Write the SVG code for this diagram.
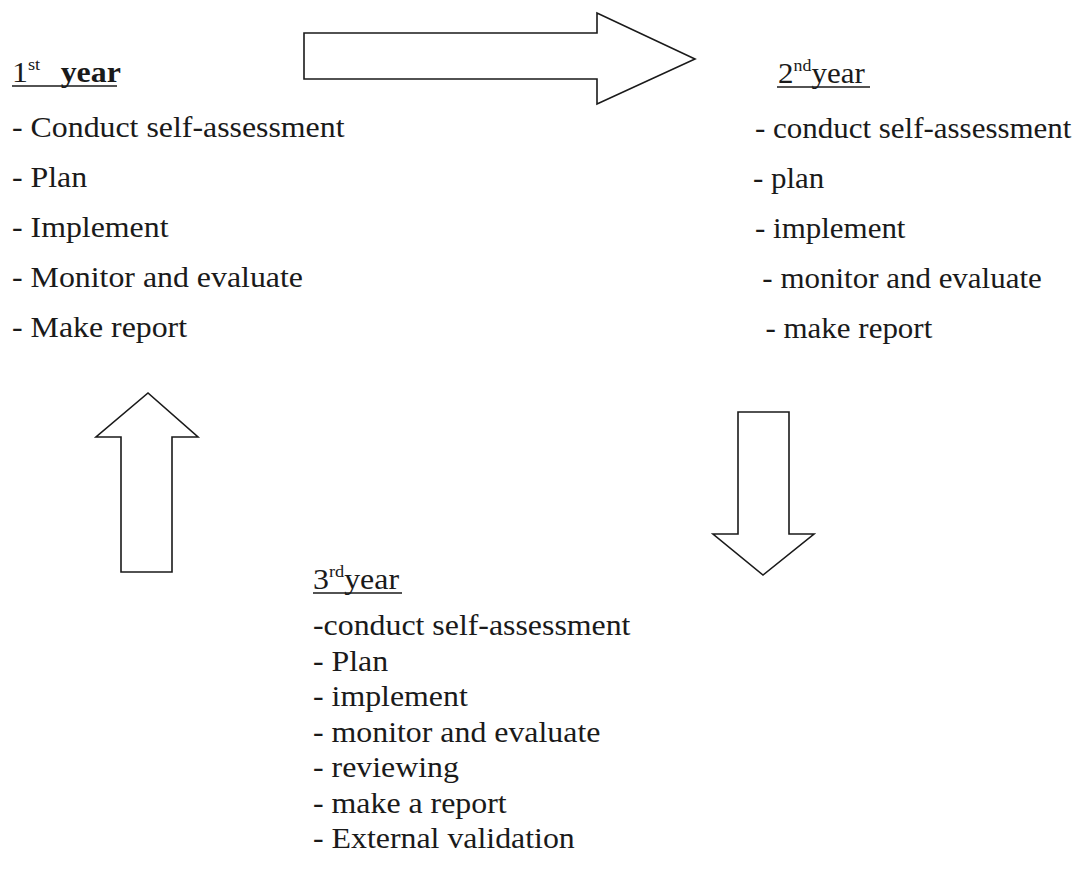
<svg xmlns="http://www.w3.org/2000/svg" width="1084" height="884" viewBox="0 0 1084 884">
<style>
text{font-family:"Liberation Serif","Times New Roman",serif;font-size:29.5px;fill:#1a1a1a}
.b{font-weight:bold}
.sup{font-size:17px}
.arrow{fill:#fff;stroke:#1a1a1a;stroke-width:1.6;stroke-linejoin:miter}
.ul{stroke:#1a1a1a;stroke-width:1.3}
</style>
<rect width="1084" height="884" fill="#fff"/>
<g id="year1">
<g transform="matrix(1.08,0,0,1,-0.96,0)">
<text x="12" y="82">1<tspan class="sup" dy="-12">st</tspan><tspan class="b" dy="12" dx="19">year</tspan></text>
<text x="12" y="137">- Conduct self-assessment</text>
<text x="12" y="187">- Plan</text>
<text x="12" y="237">- Implement</text>
<text x="12" y="287">- Monitor and evaluate</text>
<text x="12" y="337">- Make report</text>
</g>
<line class="ul" x1="12" y1="86" x2="117" y2="86"/>
</g>
<g id="year2">
<g transform="matrix(1.05,0,0,1,-37.75,0)">
<text x="777" y="83">2<tspan class="sup" dy="-12">nd</tspan><tspan dy="12">year</tspan></text>
<text x="755" y="138">- conduct self-assessment</text>
<text x="753" y="188">- plan</text>
<text x="755" y="238">- implement</text>
<text x="762" y="288">- monitor and evaluate</text>
<text x="765" y="338">- make report</text>
</g>
<line class="ul" x1="777" y1="87" x2="870" y2="87"/>
</g>
<g id="year3">
<g transform="matrix(1.08,0,0,1,-25.04,0)">
<text x="313" y="589">3<tspan class="sup" dy="-12">rd</tspan><tspan dy="12">year</tspan></text>
<text x="313" y="635">-conduct self-assessment</text>
<text x="313" y="671">- Plan</text>
<text x="313" y="706">- implement</text>
<text x="313" y="742">- monitor and evaluate</text>
<text x="313" y="777">- reviewing</text>
<text x="313" y="813">- make a report</text>
<text x="313" y="848">- External validation</text>
</g>
<line class="ul" x1="313" y1="593" x2="402" y2="593"/>
</g>
<g id="connectors">
<polygon id="arrow-right" class="arrow" points="304,33 597,33 597,13 695,59 597,104 597,79 304,79"/>
<polygon id="arrow-down" class="arrow" points="738,412 789,412 789,534 814,534 763,575 713,534 738,534"/>
<polygon id="arrow-up" class="arrow" points="121,572 172,572 172,437 198,437 148,393 96,437 121,437"/>
</g>
</svg>
